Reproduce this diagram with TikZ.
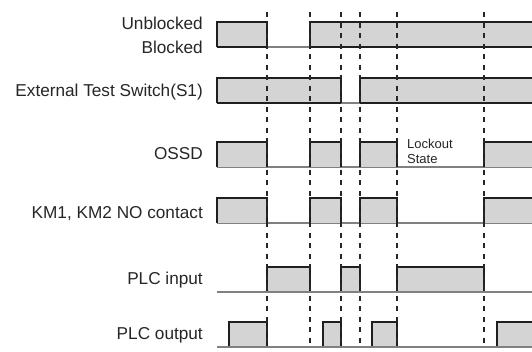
\documentclass[tikz,border=0pt]{standalone}
\usepackage{fontspec}
\setmainfont{Liberation Sans}
\begin{document}
\begin{tikzpicture}[x=1pt,y=-1pt,
  lbl/.style={anchor=base east,inner sep=0pt,text=black!85,font=\fontsize{17.2}{20}\selectfont},
  small/.style={anchor=base west,inner sep=0pt,text=black!85,font=\fontsize{13}{15}\selectfont},
  barfill/.style={fill=black!17,draw=none},
  barline/.style={draw=black!88,line width=1.2pt},
  baseln/.style={draw=black!50,line width=1.2pt},
  guide/.style={draw=black!85,line width=1.2pt,dash pattern=on 5pt off 5.5pt}]
\useasboundingbox (0,0) rectangle (532,351);
% closed pulse: x1,x2,top,bottom
\newcommand{\pulse}[4]{%
  \fill[barfill] (#1,#3) rectangle (#2,#4);
  \draw[barline] (#1,#4) -- (#1,#3) -- (#2,#3) -- (#2,#4);}
% open pulse to right edge
\newcommand{\openpulse}[3]{%
  \fill[barfill] (#1,#2) rectangle (533,#3);
  \draw[barline] (#1,#3) -- (#1,#2) -- (533,#2);}

% labels
\node[lbl] (unb) at (203,29) {Unblocked};
\node[lbl] (blk) at (203,53) {Blocked};
\node[lbl] (ets) at (203,96.5) {External Test Switch(S1)};
\node[lbl] (ossd) at (203,159.5) {OSSD};
\node[lbl] (km) at (203,218) {KM1, KM2 NO contact};
\node[lbl] (plci) at (203,284.5) {PLC input};
\node[lbl] (plco) at (203,339.5) {PLC output};
\node[small] (lo1) at (407,148.6) {Lockout};
\node[small] (lo2) at (407,163.2) {State};

% row 1: Unblocked / Blocked
\draw[baseln] (217,47) -- (533,47);
\pulse{217}{267}{22}{47}
\draw[barline] (217,47) -- (267,47);
\openpulse{310}{22}{47}
\draw[barline] (310,47) -- (533,47);

% row 2: External test switch
\draw[baseln] (217,103) -- (533,103);
\pulse{217}{341}{78}{103}
\draw[barline] (217,103) -- (341,103);
\openpulse{360}{78}{103}
\draw[barline] (360,103) -- (533,103);

% row 3: OSSD
\draw[baseln] (217,167) -- (533,167);
\pulse{217}{267}{142}{167}
\pulse{310}{341}{142}{167}
\pulse{360}{397}{142}{167}
\openpulse{484}{142}{167}

% row 4: KM1, KM2
\draw[baseln] (217,223) -- (533,223);
\pulse{217}{267}{198}{223}
\pulse{310}{341}{198}{223}
\pulse{360}{397}{198}{223}
\openpulse{484}{198}{223}

% row 5: PLC input
\pulse{267}{310}{267}{292}
\pulse{341}{360}{267}{292}
\pulse{397}{484}{267}{292}
\draw[baseln] (217,292) -- (533,292);

% row 6: PLC output
\pulse{229}{267}{322}{347}
\pulse{323}{341}{322}{347}
\pulse{372}{397}{322}{347}
\openpulse{497}{322}{347}
\draw[baseln] (217,347) -- (533,347);

% timing guides
\foreach \gx in {267,310,341,360,397,484}
  \draw[guide] (\gx,12) -- (\gx,347);
\end{tikzpicture}
\end{document}
